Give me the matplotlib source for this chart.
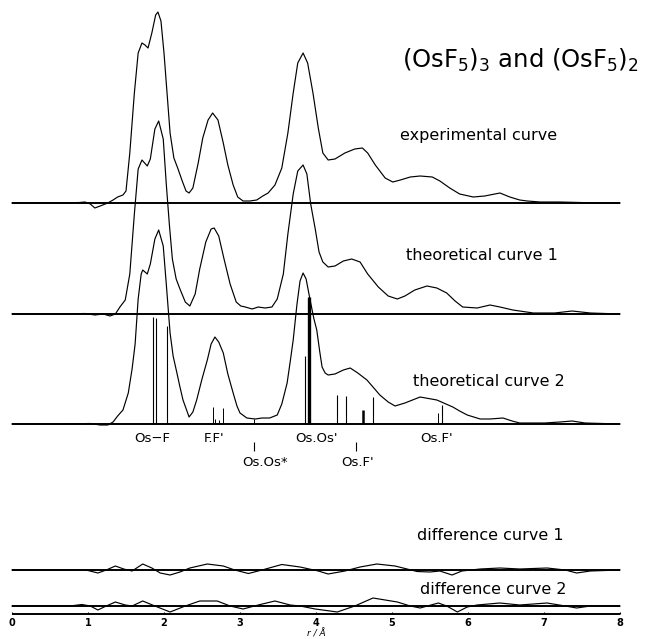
import matplotlib.pyplot as plt

# radial distribution curves, r in Angstrom, heights in arbitrary units
exp_r = [0.00, 0.63, 0.89, 0.96, 1.03, 1.09, 1.16, 1.26, 1.33, 1.39, 1.46, 1.50, 1.55, 1.61, 1.66,
         1.71, 1.75, 1.79, 1.84, 1.89, 1.92, 1.96, 2.00, 2.04, 2.08, 2.13, 2.18, 2.24, 2.29, 2.33,
         2.38, 2.45, 2.51, 2.58, 2.64, 2.71, 2.78, 2.84, 2.91, 2.97, 3.04, 3.13, 3.22, 3.30, 3.37,
         3.46, 3.55, 3.63, 3.70, 3.76, 3.83, 3.89, 3.96, 4.03, 4.09, 4.16, 4.25, 4.38, 4.51, 4.61,
         4.68, 4.78, 4.91, 5.01, 5.11, 5.24, 5.37, 5.53, 5.63, 5.76, 5.89, 6.07, 6.22, 6.42, 6.55,
         6.68, 6.78, 6.95, 7.21, 7.47, 7.74, 8.00]
exp_h = [0, 0, 0.5, 1, -1, -5, -3, 0, 3, 6, 8, 12, 50, 110, 150,
         160, 158, 155, 170, 188, 191, 182, 150, 110, 70, 45, 35, 22, 12, 10,
         15, 40, 65, 83, 90, 83, 60, 38, 18, 6, 2, 2, 3, 7, 10,
         18, 35, 70, 110, 140, 150, 140, 110, 75, 50, 43, 44, 50, 54, 55,
         50, 38, 25, 21, 23, 26, 27, 26, 22, 15, 9, 6, 7, 10, 6,
         3, 2, 1, 1, 0.5, 0, 0]

th1_r = [0.00, 0.63, 0.96, 1.09, 1.20, 1.29, 1.36, 1.42, 1.49, 1.55, 1.61, 1.66, 1.71, 1.78, 1.82,
         1.88, 1.93, 1.99, 2.03, 2.07, 2.11, 2.16, 2.21, 2.28, 2.34, 2.41, 2.47, 2.55, 2.62, 2.66,
         2.72, 2.79, 2.87, 2.95, 3.01, 3.07, 3.16, 3.24, 3.33, 3.42, 3.49, 3.57, 3.63, 3.70, 3.76,
         3.83, 3.88, 3.93, 3.99, 4.04, 4.09, 4.16, 4.25, 4.36, 4.47, 4.58, 4.68, 4.82, 4.95, 5.07,
         5.17, 5.30, 5.46, 5.59, 5.72, 5.83, 5.93, 6.12, 6.29, 6.42, 6.59, 6.86, 7.14, 7.37, 7.61,
         8.00]
th1_h = [0, 0, 0.5, -1, 0, -2, 0, 7, 14, 40, 100, 145, 154, 148, 155,
         185, 193, 175, 130, 90, 55, 35, 25, 12, 8, 20, 45, 72, 85, 86,
         78, 55, 30, 12, 8, 7, 5, 7, 6, 7, 15, 40, 80, 120, 143,
         149, 140, 110, 85, 62, 52, 47, 48, 53, 55, 52, 40, 27, 18, 15,
         18, 24, 28, 26, 21, 13, 7, 6, 9, 7, 4, 1, 1, 3, 1,
         0]

th2_r = [0.00, 0.63, 1.03, 1.16, 1.26, 1.33, 1.39, 1.46, 1.53, 1.58, 1.62, 1.66, 1.70, 1.72, 1.78,
         1.82, 1.88, 1.93, 1.99, 2.03, 2.08, 2.12, 2.17, 2.21, 2.25, 2.33, 2.38, 2.43, 2.50, 2.57,
         2.62, 2.67, 2.72, 2.78, 2.84, 2.91, 2.96, 3.00, 3.09, 3.20, 3.29, 3.39, 3.49, 3.55, 3.62,
         3.66, 3.70, 3.75, 3.79, 3.83, 3.87, 3.92, 3.97, 4.01, 4.05, 4.08, 4.12, 4.16, 4.25, 4.36,
         4.45, 4.55, 4.67, 4.75, 4.84, 4.95, 5.04, 5.17, 5.37, 5.59, 5.80, 5.89, 5.99, 6.16, 6.29,
         6.46, 6.58, 6.68, 7.01, 7.21, 7.37, 7.54, 8.00]
th2_h = [0, 0, 0.5, -1, -1, 2, 8, 14, 31, 55, 80, 125, 150, 154, 150,
         160, 185, 194, 178, 140, 91, 68, 51, 37, 24, 7, 12, 24, 45, 64,
         80, 87, 82, 71, 50, 31, 18, 11, 6, 5, 6, 6, 9, 20, 41,
         62, 84, 120, 143, 151, 145, 125, 106, 94, 72, 57, 51, 49, 50, 54,
         56, 51, 44, 37, 29, 22, 18, 21, 27, 24, 17, 13, 9, 5, 5,
         6, 3, 1, 1, 2, 3, 1, 0]

# interatomic distances (theoretical curve 2)
stick_r = [1.85, 1.89, 2.04, 2.64, 2.67, 2.73, 2.78, 3.18, 3.85, 3.91, 4.27, 4.39, 4.62, 4.75, 5.61, 5.66]
stick_h = [107, 106, 98, 17, 5, 4, 16, 5, 68, 127, 29, 28, 14, 27, 11, 19]
stick_lw = [0.8, 0.8, 0.8, 0.7, 0.7, 0.7, 0.7, 0.7, 0.8, 2.4, 0.8, 0.8, 1.8, 0.8, 0.7, 0.8]

stick_labels = ["Os\u2212F", "F.F'", "Os.Os*", "Os.Os'", "Os.F'", "Os.F'"]
stick_label_r = [1.84, 2.66, 3.33, 4.01, 4.55, 5.58]
stick_label_low = [False, False, True, False, True, False]
marker_r = [3.18, 4.53]

diff1_r = [0.00, 0.89, 1.00, 1.13, 1.24, 1.36, 1.47, 1.58, 1.72, 1.84, 1.95, 2.08, 2.21, 2.34, 2.57,
           2.78, 2.93, 3.11, 3.29, 3.55, 3.79, 4.03, 4.16, 4.38, 4.58, 4.80, 5.04, 5.33, 5.50, 5.63,
           5.79, 5.92, 6.16, 6.42, 6.68, 7.04, 7.28, 7.43, 7.61, 8.00]
diff1_h = [0, 0, -0.5, -3, 0, 4, 1, -1, 6, 2, -3, -5, -2, 2, 6,
           4, 0, -3.5, 0, 5.5, 3, -1, -4, -1, 3, 6, 4, -1.5, -2, -1,
           -5, -1, 1, 2, 1, 2, 0, -3, -1, 0]

diff2_r = [0.00, 0.76, 0.92, 1.03, 1.13, 1.24, 1.36, 1.49, 1.58, 1.72, 1.88, 2.08, 2.28, 2.47, 2.70,
           2.87, 3.04, 3.24, 3.46, 3.66, 3.79, 3.99, 4.28, 4.51, 4.75, 4.91, 5.07, 5.24, 5.37, 5.61,
           5.72, 5.86, 5.99, 6.12, 6.42, 6.68, 7.04, 7.28, 7.43, 7.61, 8.00]
diff2_h = [0, 0, 1.5, 0, -4, 0, 4, 1, 0, 5, 0, -6, 0, 5, 5,
           0, -3, 1, 5, 1, 0, -3, -6, 0, 8, 6, 4, 0, -2, 3,
           0, -6, -1, 1, 3, 1, 3, 0, -2, 0, 0]

curve_names = ["experimental curve", "theoretical curve 1", "theoretical curve 2",
               "difference curve 1", "difference curve 2"]

# vertical offsets (baselines) of the stacked curves
base_exp, base_th1, base_th2, base_d1, base_d2, base_axis = 436, 325, 215, 69, 33, 25

fig = plt.figure(figsize=(6.56, 6.39), dpi=100)
ax = fig.add_axes([0, 0, 1, 1])
ax.set_xlim(-12 / 76, 644 / 76)
ax.set_ylim(0, 639)
ax.axis("off")

lw = 0.85
for r, h, b in [(exp_r, exp_h, base_exp), (th1_r, th1_h, base_th1), (th2_r, th2_h, base_th2),
                (diff1_r, diff1_h, base_d1), (diff2_r, diff2_h, base_d2)]:
    ax.hlines(b, 0, 8, color="black", lw=1.4)
    ax.plot(r, [b + v for v in h], color="black", lw=lw)

# sticks
for r, h, w in zip(stick_r, stick_h, stick_lw):
    ax.vlines(r, base_th2, base_th2 + h, color="black", lw=w)

for lab, r, low in zip(stick_labels, stick_label_r, stick_label_low):
    ax.text(r, 173 if low else 197, lab, ha="center", va="baseline", fontsize=9.5)
for r in marker_r:
    ax.vlines(r, 188, 197, color="black", lw=0.8)

# r axis
ax.hlines(base_axis, 0, 8, color="black", lw=1.4)
for t in range(9):
    ax.vlines(t, base_axis, base_axis + 2.5, color="black", lw=0.8)
    ax.text(t, 16.5, str(t), ha="center", va="center", fontsize=7, fontweight="bold")
ax.text(4.0, 0.5, "r / Å", ha="center", va="bottom", fontsize=6.5, style="italic")

# titles
ax.text(5.13, 571, r"(OsF$_5$)$_3$ and (OsF$_5$)$_2$", ha="left", va="baseline", fontsize=17.5)
name_pos = [(5.11, 499), (5.18, 379), (5.28, 253), (5.33, 99), (5.37, 45)]
for name, (x, y) in zip(curve_names, name_pos):
    ax.text(x, y, name, ha="left", va="baseline", fontsize=11.5)

fig.savefig("out.png", dpi=100)
